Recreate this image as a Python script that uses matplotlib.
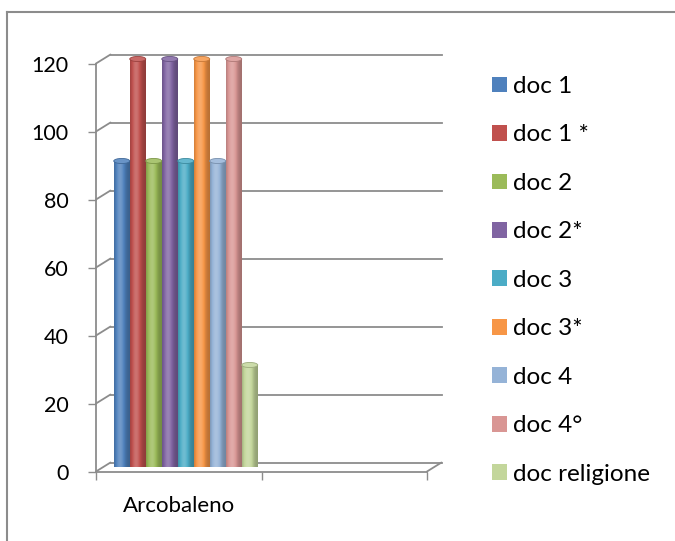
import matplotlib
matplotlib.use("Agg")
import matplotlib.pyplot as plt
import matplotlib.transforms as mtransforms
import matplotlib.colors as mcolors
from matplotlib.patches import Patch, Ellipse
from matplotlib.lines import Line2D
import numpy as np


# Data
categories = ["Arcobaleno", ""]
series = ["doc 1", "doc 1 *", "doc 2", "doc 2*", "doc 3", "doc 3*",
          "doc 4", "doc 4°", "doc religione"]
values = [90, 120, 90, 120, 90, 120, 90, 120, 30]   # only "Arcobaleno" has data
colors = ["#4F81BD", "#C0504D", "#9BBB59", "#8064A2", "#4BACC6", "#F79646",
          "#95B3D7", "#D99694", "#C3D69B"]
yticks = [0, 20, 40, 60, 80, 100, 120]

gray = "#8c8c8c"
plt.rcParams["font.family"] = ["Lato", "DejaVu Sans"]

fig = plt.figure(figsize=(6.75, 5.41), dpi=100)
# front plane of the pseudo-3D box
ax = fig.add_axes([96 / 675, 1 - 471.5 / 541, 331 / 675, 408 / 541])
ax.set_facecolor("none")
n = len(categories)
ax.set_xlim(0, n)
ax.set_ylim(yticks[0], yticks[-1])

# depth offsets (pixels): bars sit in the middle, gridlines on the back wall
mid = mtransforms.offset_copy(ax.transData, fig=fig, x=7, y=4.5, units="dots")
back = mtransforms.offset_copy(ax.transData, fig=fig, x=14.5, y=9, units="dots")

# back wall gridlines + diagonals to the front axis
for y in yticks:
    ax.plot([0, n], [y, y], transform=back, color=gray, lw=1.3, clip_on=False, zorder=1)
    ax.annotate("", xy=(0, y), xycoords=back, xytext=(0, y), textcoords=ax.transData,
                arrowprops=dict(arrowstyle="-", color=gray, lw=1.3, shrinkA=0, shrinkB=0))
ax.annotate("", xy=(n, 0), xycoords=back, xytext=(n, 0), textcoords=ax.transData,
            arrowprops=dict(arrowstyle="-", color=gray, lw=1.3, shrinkA=0, shrinkB=0))


def shade_cols(color, cols=40):
    """horizontal cylinder shading for one bar"""
    base = np.array(mcolors.to_rgb(color))
    t = np.linspace(0, 1, cols)
    s = 0.74 + 0.46 * np.exp(-((t - 0.38) / 0.32) ** 2)
    out = []
    for v in s:
        if v < 1:
            out.append(base * v)
        else:
            out.append(base + (1 - base) * (v - 1))
    return np.clip(np.array(out), 0, 1)[None, :, :]


# bars
w = 16 / 165.5
k = len(series)
xpos = [0.5 + (i - (k - 1) / 2) * w for i in range(k)]
bars = ax.bar(xpos, values, width=w, color=colors, transform=mid, clip_on=False, zorder=3)
for b, c in zip(bars, colors):
    x0, h = b.get_x(), b.get_height()
    ax.imshow(shade_cols(c), extent=(x0, x0 + w, 0, h), transform=mid, aspect="auto",
              interpolation="bilinear", zorder=3, clip_on=False)
    base = np.array(mcolors.to_rgb(c))
    cap = Ellipse((x0 + w / 2, h), width=w, height=1.5, transform=mid,
                  facecolor=base + (1 - base) * 0.15, edgecolor=base * 0.8, lw=0.6,
                  zorder=4, clip_on=False)
    ax.add_patch(cap)
ax.set_xlim(0, n)
ax.set_ylim(yticks[0], yticks[-1])

# front axes
for s in ["top", "right"]:
    ax.spines[s].set_visible(False)
for s in ["left", "bottom"]:
    ax.spines[s].set_color(gray)
    ax.spines[s].set_linewidth(1.3)
ax.set_yticks(yticks)
ax.tick_params(axis="y", length=5.8, width=1, color=gray, pad=14, labelsize=15.5)
ax.set_xticks(range(n + 1))
ax.set_xticklabels([])
ax.set_xticks([i + 0.5 for i in range(n)], minor=True)
ax.set_xticklabels(categories, minor=True)
ax.tick_params(axis="x", which="major", length=5.8, width=1, color=gray)
ax.tick_params(axis="x", which="minor", length=0, pad=17.5, labelsize=16)

# legend
handles = [Patch(facecolor=c) for c in colors]
fig.legend(handles, series, loc="upper left", bbox_to_anchor=(492 / 675, 1 - 76 / 541),
           frameon=False, fontsize=17.5, handlelength=0.62, handleheight=0.62,
           handletextpad=0.25, labelspacing=1.13, borderpad=0, borderaxespad=0)

# outer chart frame (left and top edges only visible)
fig.add_artist(Line2D([6.5 / 675, 6.5 / 675], [0, 1 - 11.5 / 541], color=gray, lw=1.5))
fig.add_artist(Line2D([6.5 / 675, 1], [1 - 11.5 / 541, 1 - 11.5 / 541], color=gray, lw=1.5))

fig.savefig("out.png", dpi=100)
